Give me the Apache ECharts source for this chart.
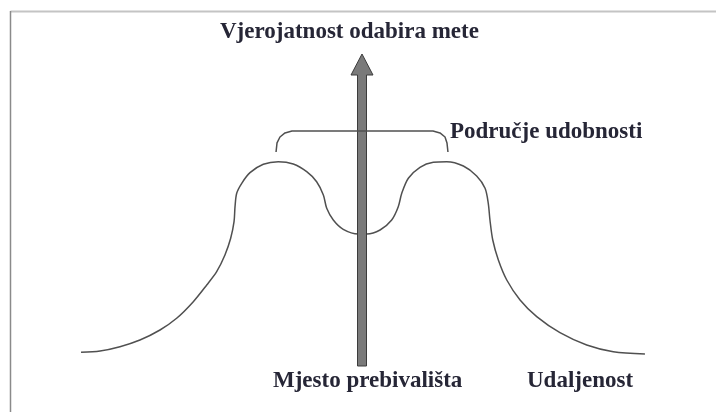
<!DOCTYPE html>
<html>
<head>
<meta charset="utf-8">
<script src="https://cdn.jsdelivr.net/npm/echarts@6/dist/echarts.min.js"></script>
<style>
  html, body { margin: 0; padding: 0; background: #fff; }
  #chart { width: 716px; height: 412px; }
</style>
</head>
<body>
<div id="chart"></div>
<script>
// curve: probability of choosing a target vs. distance from residence
var curveX = [-20.07, -18.71, -17.29, -15.86, -14.43, -13.24, -12.05, -11.09, -10.38, -9.79, -9.38, -9.14, -9.07, -8.95,
              -8.59, -8.0, -7.05, -5.98, -4.91, -3.95, -3.24, -2.76, -2.52, -2.05, -1.34, -0.26, 0.34,
              1.29, 2.12, 2.59, 2.84, 3.31, 4.14, 5.09, 6.05, 7.24, 8.19, 8.79, 9.02, 9.14, 9.34, 9.74,
              10.34, 11.29, 12.48, 14.14, 16.05, 17.95, 20.21];
var curveY = [4.39, 4.81, 6.19, 8.33, 11.54, 15.29, 20.61, 25.96, 30.22, 35.58, 40.93, 46.25, 51.06, 55.35,
              58.56, 61.96, 64.65, 65.48, 64.74, 62.28, 59.07, 54.81, 50.54, 46.79, 43.81, 42.31, 42.31,
              43.59, 46.79, 51.06, 55.35, 60.16, 63.69, 65.29, 65.48, 64.10, 60.90, 56.96, 52.15, 46.79, 40.38, 33.97,
              27.56, 21.15, 15.80, 10.67, 6.73, 4.58, 3.85];

// bracket over the comfort zone
var bracketX = [-6.14, -6.07, -5.86, -5.5, -5.0, 5.07, 5.57, 5.93, 6.07, 6.14];
var bracketY = [68.6, 71.5, 73.4, 74.7, 75.3, 75.3, 74.7, 73.4, 71.5, 68.6];

// vertical arrow at the place of residence
var arrowX = 0;
var arrowFrom = 0;
var arrowTo = 100;

var labels = {
    yName: 'Vjerojatnost odabira mete',
    zone: 'Područje udobnosti',
    origin: 'Mjesto prebivališta',
    xName: 'Udaljenost'
};

function pairs(xs, ys) {
    return xs.map(function (x, i) { return [x, ys[i]]; });
}

var myChart = echarts.init(document.getElementById('chart'));

var textStyle = {
    fontFamily: 'Liberation Serif',
    fontWeight: 'bold',
    fontSize: 23,
    color: '#262636'
};

var option = {
    animation: false,
    backgroundColor: '#fff',
    title: [
        { text: labels.yName, left: 220, top: 21, padding: 0, textStyle: textStyle },
        { text: labels.zone, left: 450, top: 121, padding: 0, textStyle: textStyle },
        { text: labels.origin, left: 273, top: 370, padding: 0, textStyle: textStyle },
        { text: labels.xName, left: 527, top: 370, padding: 0, textStyle: textStyle }
    ],
    grid: { left: 82, right: 67, top: 54, bottom: 46 },
    xAxis: {
        type: 'value', min: -20, max: 20.5,
        show: false
    },
    yAxis: {
        type: 'value', min: 0, max: 100,
        show: false
    },
    graphic: [{
        type: 'polyline',
        shape: { points: [[716, 11.5], [10.5, 11.5]] },
        style: { stroke: '#c4c4c4', lineWidth: 2, fill: null }
    }, {
        type: 'polyline',
        shape: { points: [[10.5, 11], [10.5, 412]] },
        style: { stroke: '#8a8a8a', lineWidth: 1.5, fill: null }
    }],
    series: [
        {
            type: 'line',
            data: pairs(curveX, curveY),
            smooth: 0.3,
            showSymbol: false,
            silent: true,
            clip: false,
            lineStyle: { color: '#505050', width: 1.5 },
            z: 2
        },
        {
            type: 'custom',
            silent: true,
            clip: false,
            data: [[arrowX, arrowFrom, arrowTo]],
            renderItem: function (params, api) {
                var bottom = api.coord([api.value(0), api.value(1)]);
                var tip = api.coord([api.value(0), api.value(2)]);
                var cx = tip[0];
                var shaft = 4.5, head = 11, headLen = 21;
                var baseY = tip[1] + headLen;
                return {
                    type: 'polygon',
                    shape: {
                        points: [
                            [cx - shaft, bottom[1]],
                            [cx - shaft, baseY],
                            [cx - head, baseY],
                            [cx, tip[1]],
                            [cx + head, baseY],
                            [cx + shaft, baseY],
                            [cx + shaft, bottom[1]]
                        ]
                    },
                    style: { fill: '#7a7a7a', stroke: '#3c3c3c', lineWidth: 1 }
                };
            },
            z: 3
        },
        {
            type: 'line',
            data: pairs(bracketX, bracketY),
            smooth: false,
            showSymbol: false,
            silent: true,
            lineStyle: { color: '#505050', width: 1.5 },
            z: 4
        }
    ]
};

myChart.setOption(option);
window.addEventListener("resize", function () {
    myChart.resize();
});
</script>
</body>
</html>
